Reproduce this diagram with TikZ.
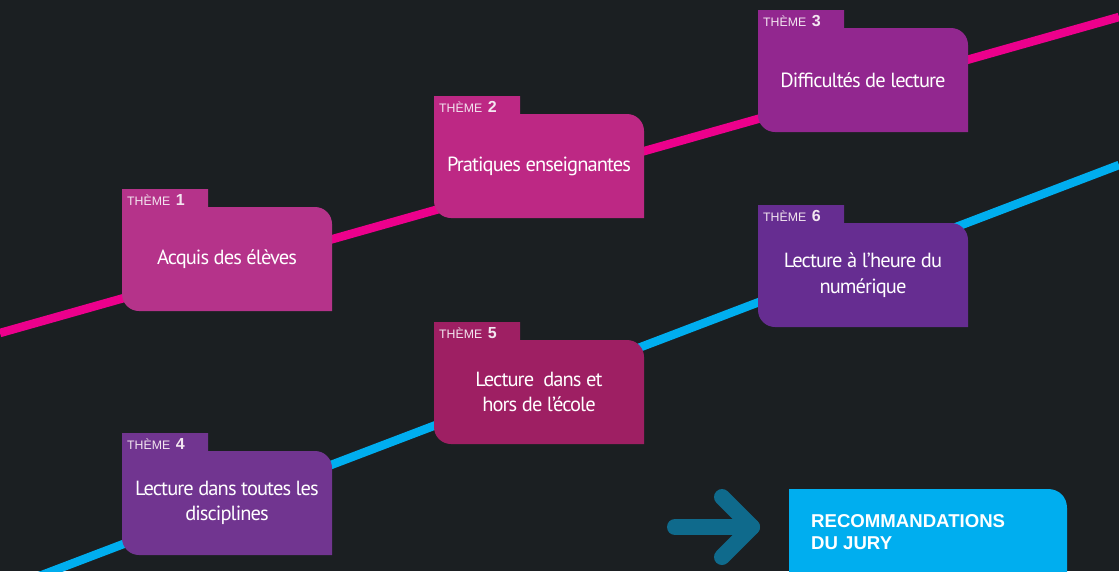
\documentclass[tikz,border=0pt]{standalone}
\usepackage{fontspec}
\setmainfont{PT Sans}
\newfontfamily\bodyfont[LetterSpace=-4.5]{PT Sans}
\newfontfamily\helv{Liberation Sans}
\definecolor{bg}{HTML}{1B1F22}
\definecolor{pinkline}{HTML}{EC008C}
\definecolor{blueline}{HTML}{00AEEF}
\definecolor{cA}{HTML}{B5338A}
\definecolor{cB}{HTML}{BD2884}
\definecolor{cC}{HTML}{92278F}
\definecolor{cD}{HTML}{713590}
\definecolor{cE}{HTML}{9E1F63}
\definecolor{cF}{HTML}{662D91}
\definecolor{arrowc}{HTML}{0F6A8C}
\definecolor{recc}{HTML}{00AEEF}
\definecolor{labelc}{HTML}{F3E6F0}
\tikzset{
  track/.style={line width=8.5pt},
  tablabel/.style={anchor=base west, inner sep=0pt, text=labelc, font={\helv\fontsize{12.3}{14}\selectfont}},
  bodytext/.style={inner sep=0pt, text=white, align=center, font={\bodyfont\fontsize{20.5}{25.5}\selectfont}},
  arrowstroke/.style={draw=arrowc, line width=16pt, line cap=round, line join=round},
  rectext/.style={anchor=north west, inner sep=0pt, text=white, align=left, font={\helv\bfseries\fontsize{18.6}{22}\selectfont}}
}
\newcommand\themefolder[6]{%
  \pgfmathsetmacro\fx{#2}\pgfmathsetmacro\fy{#3}%
  \pgfmathsetmacro\fxr{\fx+210}\pgfmathsetmacro\ftr{\fx+86}%
  \pgfmathsetmacro\fbt{\fy+18}\pgfmathsetmacro\fbb{\fy+122}%
  \fill[#4] (\fx,\fy) -- (\ftr,\fy) -- (\ftr,\fbt) -- ({\fxr-17},\fbt)
    .. controls ({\fxr-7.6},\fbt) and (\fxr,{\fbt+7.6}) .. (\fxr,{\fbt+17})
    -- (\fxr,\fbb) -- ({\fx+17},\fbb)
    .. controls ({\fx+7.6},\fbb) and (\fx,{\fbb-7.6}) .. (\fx,{\fbb-17}) -- cycle;
  \node[tablabel] (#1-tab) at ({\fx+5},{\fbt-2}) {THÈME\hspace{5.5pt}{\bfseries\fontsize{16}{16}\selectfont #5}};
  \node[bodytext] (#1) at ({(\fx+\fxr)/2},{(\fbt+\fbb)/2}) {#6};
}
\begin{document}
\begin{tikzpicture}[x=1pt,y=-1pt]
\fill[bg] (0,0) rectangle (1119,571);
\useasboundingbox (0,0) rectangle (1119,571);
\clip (0,0) rectangle (1119,571);
% tracks
\coordinate (p0) at (0,333);
\coordinate (p1) at (1119,17);
\coordinate (b0) at (0,591);
\coordinate (b1) at (1119,165);
\draw[track, pinkline] (p0) -- (p1);
\draw[track, blueline] (b0) -- (b1);
% folders
\themefolder{t1}{122}{189}{cA}{1}{Acquis des élèves}
\themefolder{t2}{434}{96}{cB}{2}{Pratiques enseignantes}
\themefolder{t3}{758}{10}{cC}{3}{Difficultés de lecture}
\themefolder{t4}{122}{433}{cD}{4}{Lecture dans toutes les\\disciplines}
\themefolder{t5}{434}{322}{cE}{5}{Lecture\ \ dans et\\hors de l’école}
\themefolder{t6}{758}{205}{cF}{6}{Lecture à l’heure du\\numérique}
% arrow
\coordinate (a0) at (675,527);
\coordinate (a1) at (752,527);
\coordinate (a2) at (722,497);
\coordinate (a3) at (722,557);
\draw[arrowstroke] (a0) -- (a1);
\draw[arrowstroke] (a2) -- (a1) -- (a3);
% recommendations box
\fill[recc] (789,489) -- (1048,489) .. controls (1059,489) and (1067,497) .. (1067,508)
  -- (1067,590) -- (808,590) .. controls (797,590) and (789,582) .. (789,571) -- cycle;
\node[rectext] (rec) at (811,514) {RECOMMANDATIONS\\DU JURY};
\end{tikzpicture}
\end{document}
